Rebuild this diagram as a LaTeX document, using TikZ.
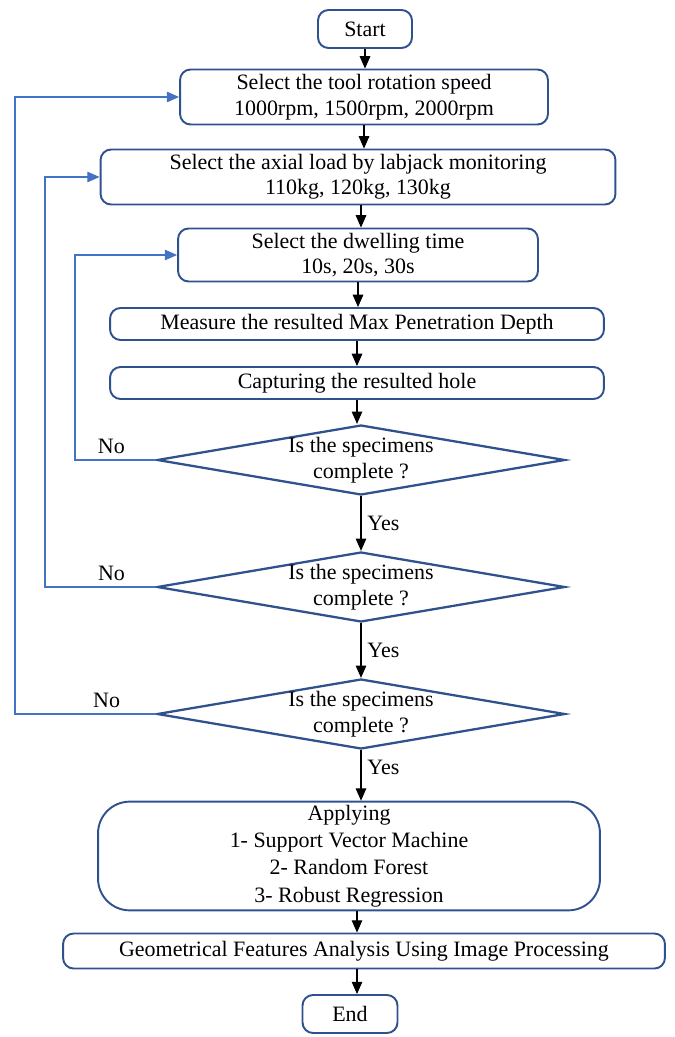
\documentclass[tikz,border=0pt]{standalone}
\usepackage{fontspec}
\setmainfont{Liberation Serif}
\usepackage{xcolor}
\usepackage{tikz}
\usetikzlibrary{shapes.geometric,arrows.meta}

\definecolor{boxblue}{HTML}{2F528F}
\definecolor{loopblue}{HTML}{4472C4}

\tikzset{
    stepbox/.style={draw=boxblue, line width=1.1pt, rounded corners=6pt, align=center,
        inner sep=2pt, font=\fontsize{12.5}{14.5}\selectfont},
    decision/.style={diamond, draw=boxblue, line width=1.3pt, inner sep=0pt,
        minimum width=8.16cm, minimum height=1.4cm},
    flow/.style={-{Triangle[length=7pt,width=6pt]}, line width=0.6pt},
    back/.style={-{Triangle[length=7pt,width=6pt]}, draw=loopblue, line width=0.6pt},
    tag/.style={font=\fontsize{12.5}{14.5}\selectfont}
}

\begin{document}
\begin{tikzpicture}[x=0.02cm, y=-0.02cm]
        \useasboundingbox (0,0) rectangle (675,1037);

        \node[stepbox, minimum width=1.88cm, minimum height=0.76cm, name=start] at (365,29) {Start};
        \node[stepbox, minimum width=7.36cm, minimum height=1.1cm, name=speed] at (364,97)
            {Select the tool rotation speed\\1000rpm, 1500rpm, 2000rpm};
        \node[stepbox, minimum width=10.3cm, minimum height=1.1cm, name=load] at (358,177)
            {Select the axial load by labjack monitoring\\110kg, 120kg, 130kg};
        \node[stepbox, minimum width=7.2cm, minimum height=1.06cm, name=dwell] at (358,255)
            {Select the dwelling time\\10s, 20s, 30s};
        \node[stepbox, minimum width=9.88cm, minimum height=0.64cm, name=depth] at (357,324)
            {Measure the resulted Max Penetration Depth};
        \node[stepbox, minimum width=9.88cm, minimum height=0.64cm, name=hole] at (357,383)
            {Capturing the resulted hole};

        \node[decision, name=q1, label={[tag, align=center]center:{Is the specimens\\complete ?}}] at (361,460) {};
        \node[decision, name=q2, label={[tag, align=center]center:{Is the specimens\\complete ?}}] at (361,587) {};
        \node[decision, name=q3, label={[tag, align=center]center:{Is the specimens\\complete ?}}] at (361,714) {};

        \node[stepbox, rounded corners=18pt, minimum width=10.04cm, minimum height=2.1cm,
            font=\fontsize{12.5}{15.5}\selectfont, name=apply] at (349,856)
            {Applying\\1- Support Vector Machine\\2- Random Forest\\3- Robust Regression};
        \node[stepbox, minimum width=12.04cm, minimum height=0.7cm, name=geo] at (364,951)
            {Geometrical Features Analysis Using Image Processing};
        \node[stepbox, minimum width=1.9cm, minimum height=0.76cm, name=stop] at (350,1014) {End};

        % main flow
        \draw[flow] (start.south) -- (start.south |- speed.north);
        \draw[flow] (speed.south) -- (speed.south |- load.north);
        \draw[flow] (load.south) ++(3,0) -- (dwell.north -| 361,0);
        \draw[flow] (dwell.south) -- (dwell.south |- depth.north);
        \draw[flow] (depth.south) -- (depth.south |- hole.north);
        \draw[flow] (hole.south) -- (hole.south |- q1.north);
        \draw[flow] (q1.south) -- node[tag, right] {Yes} (q2.north);
        \draw[flow] (q2.south) -- node[tag, right] {Yes} (q3.north);
        \draw[flow] (q3.south) -- node[tag, right, pos=0.35] {Yes} (q3.south |- apply.north);
        \draw[flow] (apply.south) ++(8,0) coordinate (a1) -- (a1 |- geo.north);
        \draw[flow] (geo.south) ++(-7,0) coordinate (g1) -- (g1 |- stop.north);

        % back loops
        \coordinate (r1) at (75,0);
        \coordinate (r2) at (45,0);
        \coordinate (r3) at (15,0);
        \draw[back] (q1.west) -- node[tag, text=black, above, pos=0.55] {No} (q1.west -| r1) |- (dwell.west);
        \draw[back] (q2.west) -- node[tag, text=black, above, pos=0.4] {No} (q2.west -| r2) |- (load.west);
        \draw[back] (q3.west) -- node[tag, text=black, above, pos=0.35] {No} (q3.west -| r3) |- (speed.west);
    \end{tikzpicture}
\end{document}
